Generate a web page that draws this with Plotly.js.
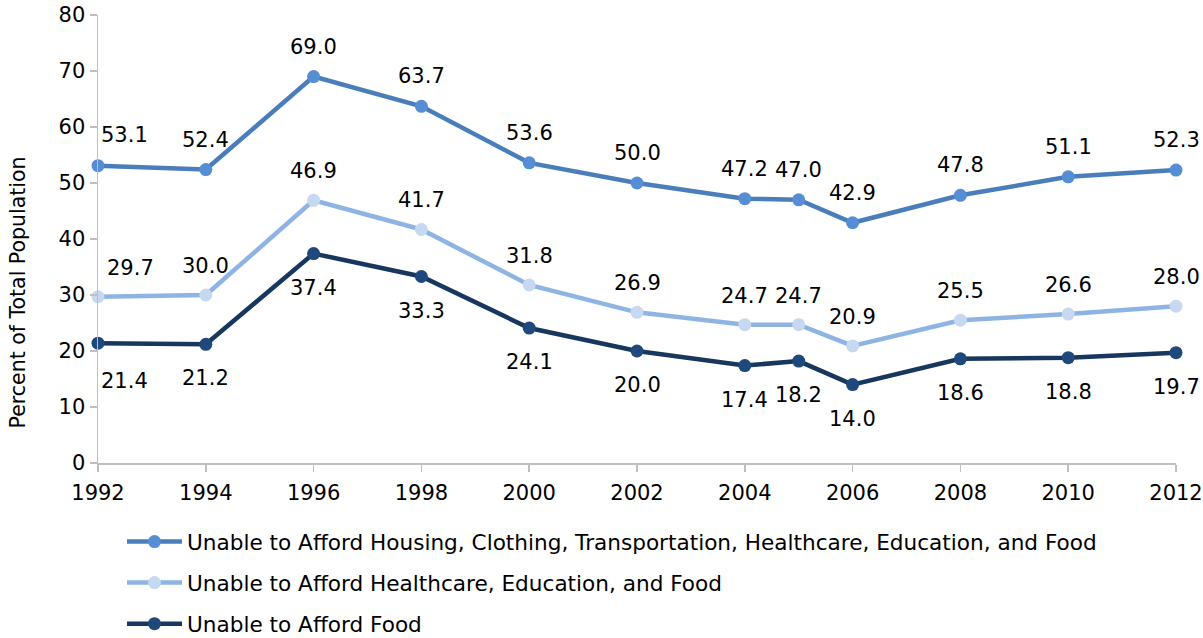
<!DOCTYPE html>
<html>
<head>
<meta charset="utf-8">
<script src="https://cdn.plot.ly/plotly-3.0.1.min.js"></script>
<style>html,body{margin:0;padding:0;background:#fff}#chart{width:1203px;height:638px}</style>
</head>
<body>
<div id="chart"></div>
<script>
var years = [1992, 1994, 1996, 1998, 2000, 2002, 2004, 2005, 2006, 2008, 2010, 2012];
var allNeeds = [53.1, 52.4, 69.0, 63.7, 53.6, 50.0, 47.2, 47.0, 42.9, 47.8, 51.1, 52.3];
var healthEduFood = [29.7, 30.0, 46.9, 41.7, 31.8, 26.9, 24.7, 24.7, 20.9, 25.5, 26.6, 28.0];
var food = [21.4, 21.2, 37.4, 33.3, 24.1, 20.0, 17.4, 18.2, 14.0, 18.6, 18.8, 19.7];
var seriesNames = [
  'Unable to Afford Housing, Clothing, Transportation, Healthcare, Education, and Food',
  'Unable to Afford Healthcare, Education, and Food',
  'Unable to Afford Food'
];
var yTitle = 'Percent of Total Population';
var xTicks = [1992, 1994, 1996, 1998, 2000, 2002, 2004, 2006, 2008, 2010, 2012];
var yTicks = [0, 10, 20, 30, 40, 50, 60, 70, 80];

var FONT = 'DejaVu Sans, Verdana, sans-serif';
var styles = [
  {line: '#4A7EBB', marker: '#558ED5', shiftY: 30, firstShiftX: 26, firstShiftY: 31},
  {line: '#8EB4E3', marker: '#C6D9F1', shiftY: 29, firstShiftX: 32, firstShiftY: 29},
  {line: '#17375E', marker: '#1F497D', shiftY: -34, firstShiftX: 26, firstShiftY: -38}
];
var seriesValues = [allNeeds, healthEduFood, food];

var traces = seriesValues.map(function (vals, i) {
  return {
    type: 'scatter',
    mode: 'lines+markers',
    x: years,
    y: vals,
    name: seriesNames[i],
    legendgroup: 'g' + i,
    line: {color: styles[i].line, width: 4.5},
    marker: {color: styles[i].marker, size: 13},
    cliponaxis: false,
    hoverinfo: 'x+y'
  };
});

var annotations = [];
seriesValues.forEach(function (vals, i) {
  vals.forEach(function (v, j) {
    annotations.push({
      x: years[j], y: v, xref: 'x', yref: 'y',
      text: v.toFixed(1),
      showarrow: false,
      xanchor: 'center', yanchor: 'middle',
      xshift: j === 0 ? styles[i].firstShiftX : 0,
      yshift: j === 0 ? styles[i].firstShiftY : styles[i].shiftY,
      font: {family: FONT, size: 21, color: '#000000'}
    });
  });
});
// y-axis title
annotations.push({
  xref: 'paper', yref: 'paper',
  x: -0.0745, y: 0.38,
  xanchor: 'center', yanchor: 'middle',
  textangle: -90,
  text: yTitle,
  showarrow: false,
  font: {family: FONT, size: 20.5, color: '#000000'}
});

var layout = {
  width: 1203, height: 638,
  margin: {l: 98, r: 27, t: 15, b: 175, autoexpand: false},
  paper_bgcolor: '#ffffff', plot_bgcolor: '#ffffff',
  font: {family: FONT, size: 21, color: '#000000'},
  showlegend: true,
  legend: {
    orientation: 'v',
    xref: 'container', yref: 'container',
    x: 122 / 1203, y: 1 - 521 / 638,
    xanchor: 'left', yanchor: 'top',
    itemwidth: 55,
    tracegroupgap: 10,
    font: {family: FONT, size: 21.6, color: '#000000'},
    bgcolor: 'rgba(0,0,0,0)'
  },
  xaxis: {
    range: [1992, 2012],
    tickvals: xTicks,
    ticktext: xTicks.map(String),
    tickangle: 0,
    showgrid: false, zeroline: false,
    showline: true, linecolor: '#BFBFBF', linewidth: 1.5,
    ticks: 'outside', ticklen: 7, tickcolor: '#BFBFBF', tickwidth: 1.5,
    ticklabelstandoff: 3,
    tickfont: {family: FONT, size: 21, color: '#000000'}
  },
  yaxis: {
    range: [0, 80],
    tickvals: yTicks,
    showgrid: false, zeroline: false,
    showline: true, linecolor: '#BFBFBF', linewidth: 1.5,
    ticks: 'outside', ticklen: 7, tickcolor: '#BFBFBF', tickwidth: 1.5,
    tickfont: {family: FONT, size: 21, color: '#000000'}
  },
  annotations: annotations
};

Plotly.newPlot('chart', traces, layout, {displayModeBar: false, staticPlot: true});
</script>
</body>
</html>
